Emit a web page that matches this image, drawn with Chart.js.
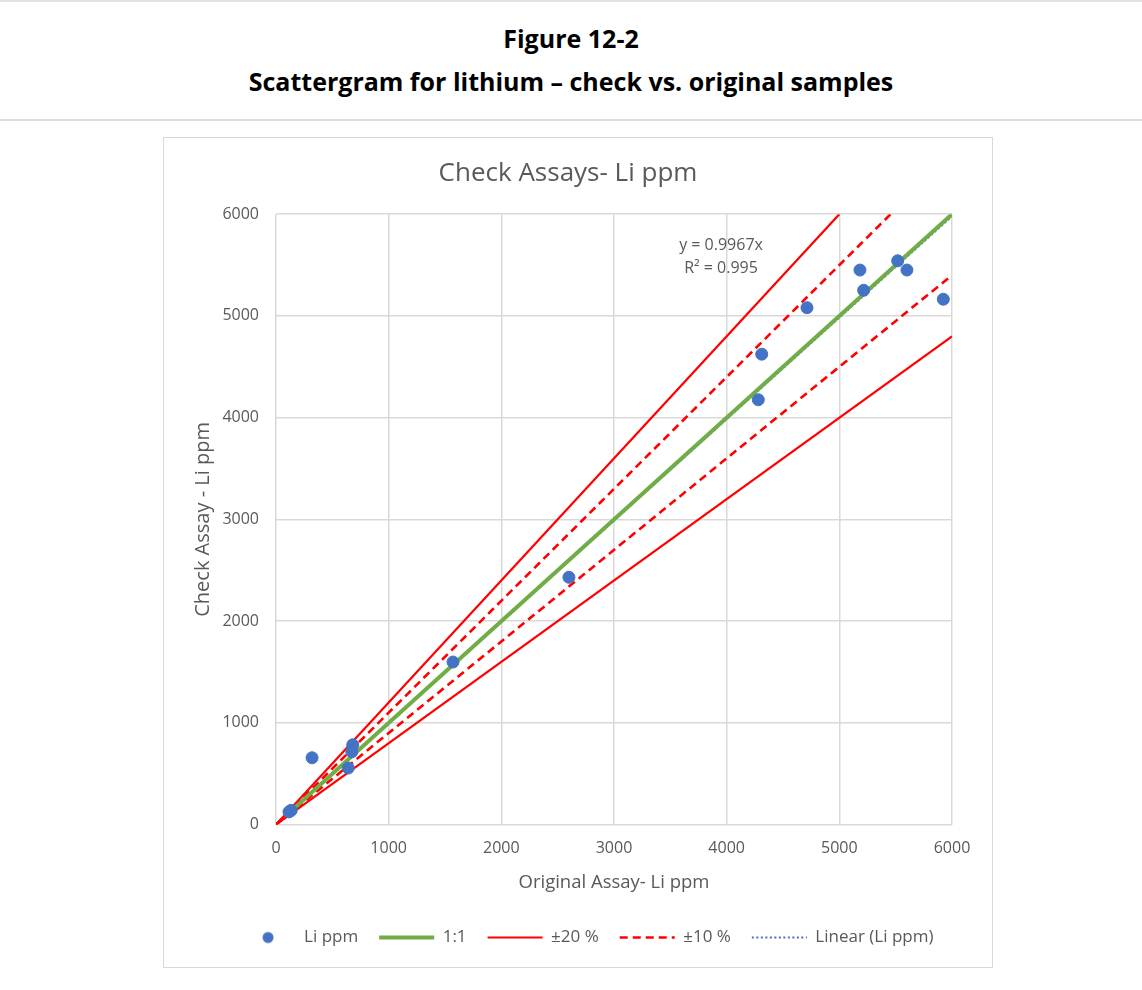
<!DOCTYPE html>
<html>
<head>
<meta charset="utf-8">
<title>Figure 12-2</title>
<script src="https://cdn.jsdelivr.net/npm/chart.js"></script>
<style>
  body { margin: 0; background: #fff; font-family: "Open Sans", sans-serif; }
  .topline { position: absolute; left: 0; top: 0; width: 1142px; border-top: 2px solid #e3e3e3; }
  .head { position: absolute; left: 0; width: 1142px; text-align: center; font-weight: bold; font-size: 25px; line-height: 34px; color: #000; }
  .sep { position: absolute; left: 0; top: 119px; width: 1142px; border-top: 2px solid #dedede; }
  .box { position: absolute; left: 163px; top: 137px; width: 830px; height: 831px; border: 1px solid #d9d9d9; box-sizing: border-box; }
</style>
</head>
<body>
<div class="topline"></div>
<div class="head" style="top:21px">Figure 12-2</div>
<div class="head" style="top:64px">Scattergram for lithium – check vs. original samples</div>
<div class="sep"></div>
<div class="box"><canvas id="chart" width="828" height="829"></canvas></div>
<script>
// sample pairs (ppm)
const originalAssay = [115, 135, 320, 641, 673, 681, 1571, 2600, 4281, 4311, 4713, 5183, 5216, 5518, 5600, 5923];
const checkAssay    = [125, 140, 657, 556, 716, 784, 1598, 2431, 4176, 4624, 5081, 5451, 5252, 5542, 5451, 5164];

// reference lines, end points
const oneToOneX = [100, 6000],  oneToOneY = [100, 6000];
const plus20X   = [0, 5000],    plus20Y   = [0, 6000];
const minus20X  = [0, 6000],    minus20Y  = [0, 4800];
const plus10X   = [0, 5455],    plus10Y   = [0, 6000];
const minus10X  = [0, 6000],    minus10Y  = [0, 5400];
const trendX    = [115, 6000],  trendY    = [114.6, 5980.2];

const axisTicks = [0, 1000, 2000, 3000, 4000, 5000, 6000];
const equationText = ['y = 0.9967x', 'R² = 0.995'];

const pts = (xs, ys) => xs.map((x, i) => ({ x: x, y: ys[i] }));
const grey = '#595959';

// small dot for the legend entry of the scatter series
const dot = document.createElement('canvas');
dot.width = 14; dot.height = 14;
const dctx = dot.getContext('2d');
dctx.fillStyle = '#4472C4';
dctx.beginPath(); dctx.arc(7, 7, 5.5, 0, Math.PI * 2); dctx.fill();

const equationLabel = {
  id: 'equationLabel',
  afterDatasetsDraw(chart) {
    const { ctx, scales } = chart;
    ctx.save();
    ctx.fillStyle = grey;
    ctx.font = '16px "Open Sans"';
    ctx.textAlign = 'center';
    ctx.textBaseline = 'middle';
    ctx.fillText(equationText[0], scales.x.getPixelForValue(3950), scales.y.getPixelForValue(5696));
    ctx.fillText(equationText[1], scales.x.getPixelForValue(3950), scales.y.getPixelForValue(5470));
    ctx.restore();
  }
};

// the excel legend sits a little right of centre
const legendNudge = {
  id: 'legendNudge',
  afterLayout(chart) {
    chart.legend.left += 19;
    chart.legend.right += 19;
  }
};

const lineDs = (label, xs, ys, color, width, dash, hide) => ({
  type: 'line', label: label, data: pts(xs, ys),
  borderColor: color, backgroundColor: color, borderWidth: width, borderDash: dash,
  pointRadius: 0, pointStyle: 'line', fill: false, hideLegend: !!hide
});

new Chart(document.getElementById('chart'), {
  type: 'scatter',
  data: {
    datasets: [
      { label: 'Li ppm', data: pts(originalAssay, checkAssay), backgroundColor: '#4472C4', borderColor: '#4472C4',
        pointRadius: 6, pointHoverRadius: 6 },
      lineDs('1:1', oneToOneX, oneToOneY, '#70AD47', 4, []),
      lineDs('±20 %', plus20X, plus20Y, '#FF0000', 2.2, []),
      lineDs('±20 % low', minus20X, minus20Y, '#FF0000', 2.2, [], true),
      lineDs('±10 %', plus10X, plus10Y, '#FF0000', 2.6, [8, 5]),
      lineDs('±10 % low', minus10X, minus10Y, '#FF0000', 2.6, [8, 5], true),
      lineDs('Linear (Li ppm)', trendX, trendY, '#4472C4', 2, [2, 2.5])
    ]
  },
  options: {
    responsive: false,
    animation: false,
    layout: { padding: { left: 20, right: 40, top: 0, bottom: 11 } },
    plugins: {
      tooltip: { enabled: false },
      title: {
        display: true, text: 'Check Assays- Li ppm', color: grey,
        font: { family: 'Open Sans', size: 26, weight: 'normal' },
        padding: { top: 20, bottom: 25 }
      },
      legend: {
        position: 'bottom',
        labels: {
          usePointStyle: true, pointStyleWidth: 55, boxHeight: 10,
          color: grey, font: { family: 'Open Sans', size: 17 }, padding: 21,
          filter: (item, data) => !data.datasets[item.datasetIndex].hideLegend,
          generateLabels(chart) {
            const items = Chart.defaults.plugins.legend.labels.generateLabels(chart);
            items.forEach(it => {
              const ds = chart.data.datasets[it.datasetIndex];
              if (it.datasetIndex === 0) { it.pointStyle = dot; return; }
              it.lineDash = ds.borderDash;
              it.lineWidth = ds.borderWidth;
              it.strokeStyle = ds.borderColor;
            });
            return items;
          }
        }
      }
    },
    scales: {
      x: {
        type: 'linear', min: 0, max: 6000,
        afterBuildTicks: s => { s.ticks = axisTicks.map(v => ({ value: v })); },
        ticks: { color: grey, font: { family: 'Open Sans', size: 16 }, padding: 14, callback: v => String(v) },
        grid: { color: '#d9d9d9', lineWidth: 1.5, drawTicks: false },
        border: { display: false },
        title: { display: true, text: 'Original Assay- Li ppm', color: grey, font: { family: 'Open Sans', size: 18.5 }, padding: { top: 0, bottom: 14 } }
      },
      y: {
        type: 'linear', min: 0, max: 6000,
        afterBuildTicks: s => { s.ticks = axisTicks.map(v => ({ value: v })); },
        ticks: { color: grey, font: { family: 'Open Sans', size: 16 }, padding: 17, callback: v => String(v) },
        grid: { color: '#d9d9d9', lineWidth: 1.5, drawTicks: false },
        border: { display: false },
        title: { display: true, text: 'Check Assay - Li ppm', color: grey, font: { family: 'Open Sans', size: 20 }, padding: { top: 7, bottom: 4 } },
        afterFit: s => { s.width = 92; }
      }
    }
  },
  plugins: [equationLabel, legendNudge]
});
</script>
</body>
</html>
